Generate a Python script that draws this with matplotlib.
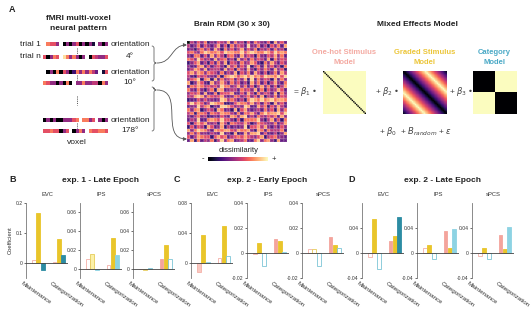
import numpy as np
import matplotlib
matplotlib.use('Agg')
import matplotlib.pyplot as plt
from matplotlib.patches import FancyArrowPatch, Rectangle, PathPatch
from matplotlib.path import Path

plt.rcParams['font.family'] = ['Liberation Sans', 'DejaVu Sans']
plt.rcParams['mathtext.fontset'] = 'dejavusans'

# ---------------- data ----------------
conditions = ['Maintenance', 'Categorization']
regions = ['EVC', 'IPS', 'sPCS']
panel_titles = ['exp. 1 - Late Epoch', 'exp. 2 - Early Epoch', 'exp. 2 - Late Epoch']
panel_letters = ['B', 'C', 'D']

# values: [maint one-hot, graded, category, categ one-hot, graded, category]
B_EVC = [0.011, 0.167, -0.023, 0.002, 0.079, 0.028]
B_IPS = [0.010, 0.016, -0.001, 0.004, 0.033, 0.015]
B_sPCS = [-0.0005, -0.001, 0.0005, 0.0105, 0.0255, 0.0105]
C_EVC = [-0.012, 0.038, 0.001, 0.007, 0.050, 0.009]
C_IPS = [-0.0008, 0.0077, -0.0105, 0.011, 0.0097, 0.0005]
C_sPCS = [0.003, 0.003, -0.0105, 0.013, 0.0062, 0.004]
D_EVC = [-0.0064, 0.055, -0.026, 0.020, 0.027, 0.057]
D_IPS = [0.008, 0.0134, -0.009, 0.035, 0.008, 0.038]
D_sPCS = [-0.004, 0.0086, -0.009, 0.029, 0.007, 0.042]
# style: f filled, d dark filled, l light filled, h hollow
B_styles = ['hfdhfd', 'hlfhff', 'hhhffh']
C_styles = ['lffhfh', 'hfhfff', 'hhhffh']
D_styles = ['hfhffd', 'hfhfff', 'hfhfff']

ylims = {'B': [(-0.05, 0.2), (-0.01, 0.07), (-0.01, 0.07)],
         'C': [(-0.02, 0.08), (-0.02, 0.04), (-0.02, 0.04)],
         'D': [(-0.04, 0.08), (-0.04, 0.08), (-0.04, 0.08)]}
yticks = {'B': [[0, 0.1, 0.2], [0, 0.02, 0.04, 0.06], [0, 0.02, 0.04, 0.06]],
          'C': [[0, 0.04, 0.08], [-0.02, 0, 0.02, 0.04], [-0.02, 0, 0.02, 0.04]],
          'D': [[-0.04, 0, 0.04], [-0.04, 0, 0.04], [-0.04, 0, 0.04]]}

orientations = [4, 10, 16, 22, 28, 34, 40, 46, 52, 58, 64, 70, 76, 82, 88,
                94, 100, 106, 112, 118, 124, 130, 136, 142, 148, 154, 160, 166, 172, 178]
category = [0]*15 + [1]*15

# brain RDM (quantised dissimilarity levels 0-9; upper triangle used, mirrored)
rdm_rows = [
    "05364 72436 54837 45263 75436 28463",
    "50473 64358 36274 65394 47352 64738",
    "34057 46385 27463 58364 72546 37452",
    "76807 98778 69887 79689 87798 69787",
    "43750 63847 52674 38465 27436 58473",
    "62476 05384 67352 84637 46538 27465",
    "47358 40637 48265 37458 63274 85364",
    "35648 73056 42857 36492 57384 63527",
    "58374 64705 38462 75384 26475 38462",
    "46283 75460 73548 26473 85362 47385",
    "78969 87798 07898 68979 78698 87969",
    "53647 26385 40573 64829 37465 28374",
    "64382 57436 85074 63528 47362 58437",
    "37465 83527 46305 84736 25847 36258",
    "52847 36458 27640 37564 83726 45863",
    "48362 75836 45270 46385 27465 38274",
    "63574 28463 75846 30574 63825 47365",
    "89787 97968 78997 86079 87978 97887",
    "46253 84736 52846 37508 46375 28463",
    "37468 26574 38465 27460 38572 64853",
    "58362 74835 26473 85346 05374 62847",
    "79878 68797 87968 79878 80797 88969",
    "42736 58463 74528 36475 38046 57384",
    "65384 27465 83746 25837 46305 83627",
    "38572 64837 25468 37452 68740 47358",
    "47263 85374 62837 45826 37458 05364",
    "53846 27458 36274 58364 72536 40572",
    "64375 38264 75836 27453 84627 35048",
    "36528 47385 26473 85364 27548 36403",
    "47365 83526 47385 26473 58364 72830",
]
rdm_diag = "03243 42353 24345 34253 43524 35243"

# voxel patterns (levels 0-9, '-' = empty)
voxel_rows = ["-7664-0404604041-404",
              "60476-9747404-065446",
              "-0407064027474753-16",
              "764404070-4474455074",
              "04040044467-7746-404",
              "66766046-0474-766776"]

# ---------------- figure ----------------
W, H = 531, 312
fig = plt.figure(figsize=(W/100, H/100), dpi=100)
ov = fig.add_axes([0, 0, 1, 1])
ov.set_zorder(0)
ov.axis('off')
cmap = plt.get_cmap('magma')
TXT = '#222222'

def t(x, y, s, **kw):
    kw.setdefault('color', TXT)
    kw.setdefault('ha', 'center')
    kw.setdefault('va', 'center')
    ov.text(x, y, s, **kw)

# Panel A text
t(12, 10, 'A', fontsize=6.5, fontweight='bold')
t(78, 18, 'fMRI multi-voxel', fontsize=6, fontweight='bold')
t(78, 29, 'neural pattern', fontsize=6, fontweight='bold')

row_y = [44, 57, 72, 83, 120, 131]
cw = 65/20
for ry, row in zip(row_y, voxel_rows):
    for k, ch in enumerate(row):
        if ch == '-':
            continue
        ov.add_patch(Rectangle((43 + k*cw, ry - 1.8), cw, 3.6,
                               facecolor=cmap(int(ch)/9*0.93), edgecolor='none'))
for y0, y1 in [(48, 54), (75, 80), (123, 128), (96, 105)]:
    ov.plot([77, 77], [y0, y1], color='#444', lw=0.7, ls=(0, (1, 1.2)))

t(41, 44, 'trial 1', fontsize=6, ha='right')
t(41, 57, 'trial n', fontsize=6, ha='right')
for y in [44, 72, 120]:
    t(111, y, 'orientation', fontsize=6, ha='left')
t(130, 57, '4°', fontsize=6)
t(130, 83, '10°', fontsize=6)
t(130, 131, '178°', fontsize=6)
t(77, 142, 'voxel', fontsize=6)

def brace(x, y0, y1, tip, w=2.2):
    verts = [(x - w, y0), (x, y0), (x, y0 + w), (x, tip - w), (x, tip), (x + w, tip),
             (x, tip), (x, tip + w), (x, y1 - w), (x, y1), (x - w, y1)]
    codes = [Path.MOVETO, Path.CURVE3, Path.CURVE3, Path.LINETO, Path.CURVE3, Path.CURVE3,
             Path.CURVE3, Path.CURVE3, Path.LINETO, Path.CURVE3, Path.CURVE3]
    ov.add_patch(PathPatch(Path(verts, codes), facecolor='none', edgecolor='#666', lw=0.6))

brace(154, 46, 81, 63)
brace(154, 87, 131, 90)

def curve_arrow(a, b, d):
    verts = [a, (a[0] + d, a[1]), (b[0] - d, b[1]), b]
    p = Path(verts, [Path.MOVETO, Path.CURVE4, Path.CURVE4, Path.CURVE4])
    ov.add_patch(FancyArrowPatch(path=p, arrowstyle='-|>', mutation_scale=5,
                                 lw=0.6, color='#555'))

curve_arrow((157, 63), (187, 45), 16)
curve_arrow((157, 90), (187, 139), 28)

# Brain RDM
n = 30
lev = np.array([[int(c) for c in r.replace(' ', '')] for r in rdm_rows], dtype=float)
rdm = np.triu(lev, 1) + np.triu(lev, 1).T
rdm[np.arange(n), np.arange(n)] = [int(c) for c in rdm_diag.replace(' ', '')]
t(232, 25, 'Brain RDM (30 x 30)', fontsize=5.8, fontweight='bold')
xe = np.linspace(187, 287, n + 1)
ye = np.linspace(41, 142, n + 1)
ov.pcolormesh(xe, ye, rdm*0.1, cmap=cmap, vmin=0, vmax=1,
              edgecolors=(1, 1, 1, 0.12), linewidth=0.15)
grad = np.linspace(0, 1, 256)[None, :]
ov.imshow(grad, cmap=cmap, extent=(208, 268, 161, 157), aspect='auto')
t(239, 151, 'dissimilarity', fontsize=5.5)
t(203, 159, '-', fontsize=5.5)
t(274, 159, '+', fontsize=5.5)

# Mixed effects model
t(417, 24, 'Mixed Effects Model', fontsize=6, fontweight='bold')
t(344, 53, 'One-hot Stimulus', fontsize=5.5, fontweight='bold', color='#f4aaa2')
t(344, 63, 'Model', fontsize=5.5, fontweight='bold', color='#f4aaa2')
t(425, 53, 'Graded Stimulus', fontsize=5.5, fontweight='bold', color='#ecc63a')
t(425, 63, 'Model', fontsize=5.5, fontweight='bold', color='#ecc63a')
t(494, 53, 'Category', fontsize=5.5, fontweight='bold', color='#4aa9c6')
t(494, 63, 'Model', fontsize=5.5, fontweight='bold', color='#4aa9c6')

ori = np.array(orientations)
cat = np.array(category)
diff = np.abs(ori[:, None] - ori[None, :])
onehot = (diff != 0).astype(float)
graded = np.minimum(diff, 180 - diff) / 90.0
catm = (cat[:, None] != cat[None, :]).astype(float)
ov.imshow(onehot, cmap=cmap, vmin=0, vmax=1, extent=(323, 366, 114, 71), aspect='auto')
ov.imshow(graded, cmap=cmap, vmin=0, vmax=1, extent=(403, 447, 114, 71), aspect='auto')
ov.imshow(catm, cmap=cmap, vmin=0, vmax=1, extent=(473, 517, 114, 71), aspect='auto',
          interpolation='nearest')

t(293, 91, r'= $\beta_1$ •', fontsize=6, ha='left', color='#444')
t(375, 91, r'+ $\beta_2$ •', fontsize=6, ha='left', color='#444')
t(449, 91, r'+ $\beta_3$ •', fontsize=6, ha='left', color='#444')
t(379, 132, r'+ $\beta_0$  + $B_{random}$ + $\epsilon$', fontsize=6, ha='left', color='#444')

# ---------------- bar panels ----------------
letter_x = [13, 177, 352]
title_x = [101, 267, 443]
axes_left = [[26, 80, 133], [191, 247, 302], [362, 417, 472]]
panel_vals = [[B_EVC, B_IPS, B_sPCS], [C_EVC, C_IPS, C_sPCS], [D_EVC, D_IPS, D_sPCS]]
panel_styles = [B_styles, C_styles, D_styles]

main_c = ['#f4a49c', '#e9c52a', '#8dd3e3']
light_c = ['#f9c8c1', '#fbf1a8', '#bfe8f0']
dark_c = ['#f08c84', '#d9b21c', '#2c8ca3']
edge_c = ['#f4b0a8', '#e6cc5a', '#7cc5d6']

def tick_fmt(v):
    if v == 0:
        return '0'
    return ('%g' % v)

offs = [-0.21, 0.0, 0.21]
for p in range(3):
    t(letter_x[p], 180, panel_letters[p], fontsize=6.5, fontweight='bold')
    t(title_x[p], 181, panel_titles[p], fontsize=6, fontweight='bold')
    for r in range(3):
        left = axes_left[p][r]
        ax = fig.add_axes([left/W, 1 - 278/H, 42/W, 75/H])
        vals = panel_vals[p][r]
        sty = panel_styles[p][r]
        for g in range(2):
            for k in range(3):
                v = vals[g*3 + k]
                s = sty[g*3 + k]
                if s == 'f':
                    fc, ec = main_c[k], main_c[k]
                elif s == 'd':
                    fc, ec = dark_c[k], dark_c[k]
                elif s == 'l':
                    fc, ec = light_c[k], edge_c[k]
                else:
                    fc, ec = 'white', edge_c[k]
                ax.bar(g + offs[k], v, width=0.19, facecolor=fc, edgecolor=ec,
                       linewidth=0.6, zorder=2)
        ax.axhline(0, color='#444', lw=0.6, zorder=3)
        ax.set_xlim(-0.6, 1.45)
        ax.set_ylim(*ylims[panel_letters[p]][r])
        yt = yticks[panel_letters[p]][r]
        ax.set_yticks(yt, [tick_fmt(v) for v in yt])
        ax.set_xticks([-0.12, 1.38], conditions, rotation=-35, ha='center')
        ax.tick_params(axis='x', length=0, pad=2, labelsize=4.5, colors='#333')
        ax.tick_params(axis='y', length=1.5, width=0.5, pad=1, labelsize=3.6, colors='#333')
        for sp in ['top', 'right', 'bottom']:
            ax.spines[sp].set_visible(False)
        ax.spines['left'].set_color('#777')
        ax.spines['left'].set_linewidth(0.6)
        ax.set_facecolor('none')
        ax.set_title(regions[r], fontsize=4.2, color='#333', pad=5)
        if p == 0 and r == 0:
            ax.set_ylabel('Coefficient', fontsize=4.2, color='#333', labelpad=2)

ov.set_xlim(0, W)
ov.set_ylim(H, 0)
fig.savefig('out.png', dpi=100)
